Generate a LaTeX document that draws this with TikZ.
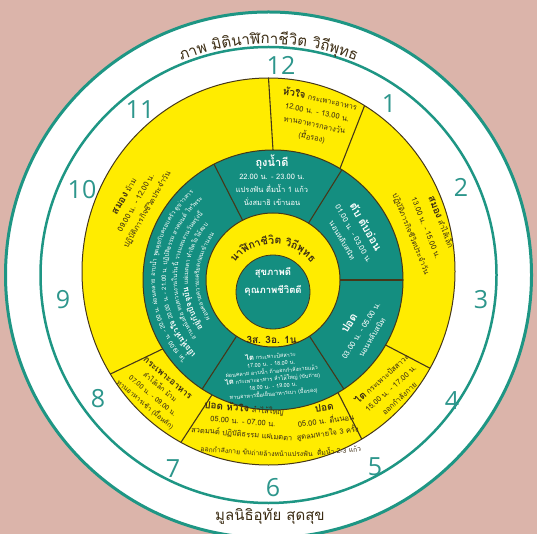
\documentclass[tikz,border=0pt]{standalone}
\usepackage{fontspec}
\newfontfamily\thai[Script=Thai]{Loma}
\newfontfamily\numfont{Open Sans}
\definecolor{bgpink}{RGB}{219,180,170}
\definecolor{ringteal}{RGB}{30,150,132}
\definecolor{fillteal}{RGB}{20,142,128}
\definecolor{sunyellow}{RGB}{255,236,0}
\definecolor{inkline}{RGB}{70,55,25}
\definecolor{inkdark}{RGB}{60,45,20}
\definecolor{numteal}{RGB}{45,150,140}

\newlength\chunkw
\newlength\fullw
% plan text along a circle: list of angle/chunk, #7=1 clockwise, -1 anticlockwise
\newcommand\arcplan[7]{%
  \settowidth\fullw{#4#5}%
  \pgfmathsetmacro\arcstart{#3-(#7)*(\fullw/(#2))*90/pi}%
  \global\let\arcpos\arcstart
  \gdef#1{}%
  \foreach \ch in {#6}{%
    \settowidth\chunkw{#4\ch}%
    \pgfmathsetmacro\arcmid{\arcpos+(#7)*(\chunkw/(#2))*90/pi}%
    \ifx#1\empty
      \xdef#1{\arcmid/\unexpanded\expandafter{\ch}}%
    \else
      \xdef#1{\unexpanded\expandafter{#1},\arcmid/\unexpanded\expandafter{\ch}}%
    \fi
    \pgfmathsetmacro\arcnext{\arcpos+(#7)*(\chunkw/(#2))*180/pi}%
    \global\let\arcpos\arcnext
  }%
}
% draw a planned list: #1 list, #2 centre, #3 radius, #4 font, #5 colour, #6 name
\newcommand\arcdraw[6]{%
  \foreach \ang/\ch [count=\i] in #1 {
    \pgfmathsetmacro\pa{90-\ang}
    \node[arcglyph,text=#5,rotate=-\ang] (#6\i) at ([shift={(#2)}]\pa:#3pt) {#4\ch};
  }%
}
\newcommand\titlefont{\thai\fontsize{15}{15}\selectfont}
\newcommand\ringfont{\thai\bfseries\fontsize{10.5}{10.5}\selectfont}
\newcommand\smallfont{\thai\fontsize{7.5}{13}\selectfont}
\newcommand\tinyfont{\thai\fontsize{6}{6}\selectfont}
\newcommand\bw[1]{{\bfseries\fontsize{8}{8}\selectfont #1}}

\tikzset{
  divider/.style={draw=inkline,line width=1.1pt},
  arcglyph/.style={inner sep=0pt,anchor=base,text=inkdark},
  yellowtxt/.style={text=inkdark,align=center,inner sep=0pt,font=\smallfont},
  tealtxt/.style={text=white,align=center,inner sep=0pt,font=\smallfont},
  clocknum/.style={text=numteal,inner sep=0pt,font={\numfont\fontsize{25}{25}\selectfont}},
}
\newcommand\bigword[1]{{\bfseries\fontsize{10}{13}\selectfont #1}}
\newcommand\headword[1]{{\bfseries\fontsize{11}{13}\selectfont #1}}

\begin{document}
\arcplan{\titlelist}{231}{0}{\titlefont}{ภาพ มิตินาฬิกาชีวิต วิถีพุทธ}{ภา,พ,~,มิ,ติ,นา,ฬิ,กา,ชี,วิ,ต,~,วิ,ถี,พุ,ท,ธ}{1}%
\arcplan{\ringlist}{48}{0}{\ringfont}{นาฬิกาชีวิต วิถีพุทธ}{นา,ฬิ,กา,ชี,วิ,ต,~,วิ,ถี,พุ,ท,ธ}{1}%
\arcplan{\nightA}{118}{273}{\tinyfont}{ไต 19.00 น. - 20.00 น. ผ่อนคลาย อาบน้ำ พูดคุยกับครอบครัว ดูข่าวสาร}{ไต,~,19.00,~,น.,~,-,~,20.00,~,น.,~,ผ่อน,คลาย,~,อาบ,น้ำ,~,พูด,คุย,กับ,ครอบ,ครัว,~,ดู,ข่าว,สาร}{1}%
\arcplan{\nightB}{107}{273}{\tinyfont}{\bw{เยื่อหุ้มหัวใจ} 20.00 น. - 21.00 น. ปฏิบัติธรรม สวดมนต์ ไหว้พระ}{\bw{เยื่อ},\bw{หุ้ม},\bw{หัว},\bw{ใจ},~,20.00,~,น.,~,-,~,21.00,~,น.,~,ปฏิ,บัติ,ธรรม,~,สวด,มนต์,~,ไหว้,พระ}{1}%
\arcplan{\nightC}{96}{273}{\tinyfont}{อ่านหนังสือ ทบทวนงานในวันนี้ วางแผนงานวันพรุ่งนี้}{อ่าน,หนัง,สือ,~,ทบ,ทวน,งาน,ใน,วัน,นี้,~,วาง,แผน,งาน,วัน,พรุ่ง,นี้}{1}%
\arcplan{\nightD}{85}{273}{\tinyfont}{\bw{อยู่กับปัจจุบัน} แผ่เมตตา ทำจิตใจให้สงบ}{\bw{อยู่},\bw{กับ},\bw{ปัจ},\bw{จุ},\bw{บัน},~,แผ่,เมต,ตา,~,ทำ,จิต,ใจ,ให้,สงบ}{1}%
\arcplan{\nightE}{74}{273}{\tinyfont}{ผ่อนคลายความเครียดก่อนเข้านอน}{ผ่อน,คลาย,ความ,เครียด,ก่อน,เข้า,นอน}{1}%
\begin{tikzpicture}[x=1pt,y=-1pt]
  \fill[bgpink] (0,0) rectangle (537,534);
  \useasboundingbox (0,0) rectangle (537,534);
  \coordinate (oc) at (268.5,275);
  \coordinate (yc) at (268.5,271.5);
  \coordinate (tc) at (273,280);
  \coordinate (dc) at (273,292);
  % rings
  \filldraw[fill=white,draw=ringteal,line width=3pt] (oc) circle[radius=263pt];
  \draw[ringteal,line width=2.5pt] (oc) circle[radius=228pt];
  \filldraw[fill=sunyellow,draw=inkline,line width=1pt] (yc) ellipse[x radius=186.5pt,y radius=193.5pt];
  \filldraw[fill=fillteal,draw=inkline,line width=1pt] (tc) circle[radius=130pt];
  \filldraw[fill=sunyellow,draw=inkline,line width=1pt] (tc) circle[radius=67pt];
  \filldraw[fill=fillteal,draw=inkline,line width=0.8pt] (dc) circle[radius=37pt];
  % dividers
  \foreach \a in {0,31,120,150,208,238}{
    \pgfmathsetmacro\pa{90-\a}
    \draw[divider] ([shift={(tc)}]\pa:130pt) -- ([shift={(yc)}]\pa:186.5pt and 193.5pt);
  }
  \foreach \a in {333,32,90,147,213}{
    \pgfmathsetmacro\pa{90-\a}
    \draw[divider] ([shift={(tc)}]\pa:67pt) -- ([shift={(tc)}]\pa:130pt);
  }
  % clock numbers
  \foreach \n/\px/\py in {12/281/65,1/389/104,2/461/187,3/481/300,4/452/401,5/375/467,
                          6/273/488,7/173/469,8/98/399,9/63/300,10/82/190,11/140/110}
    \node[clocknum] (num\n) at (\px,\py) {\n};
  % title and footer
  \arcdraw{\titlelist}{oc}{231}{\titlefont}{inkdark}{title}
  \node[text=inkdark,inner sep=0pt,font={\thai\fontsize{15}{15}\selectfont}] (footer) at (270,516) {มูลนิธิอุทัย สุดสุข};
  % yellow band
  \node[yellowtxt,rotate=-12] (noon) at (316,118)
    {\bigword{หัวใจ} กระเพาะอาหาร\\12.00 น. - 13.00 น.\\ทานอาหารกลางวัน\\(มื้อรอง)};
  \node[yellowtxt,rotate=-68,font={\thai\fontsize{7.5}{16}\selectfont}] (afternoon) at (426,228)
    {\bigword{สมอง} ลำไส้เล็ก\\13.00 น. - 15.00 น.\\ปฏิบัติภารกิจชีวิตประจำวัน};
  \node[yellowtxt,rotate=42] (evening) at (390,388)
    {\bigword{ไต} กระเพาะปัสสาวะ\\15.00 น. - 17.00 น.\\ออกกำลังกาย};
  \node[yellowtxt,rotate=-5,font={\thai\fontsize{7.5}{12.5}\selectfont}] (dawnleft) at (243,421)
    {\bigword{ปอด หัวใจ} ลำไส้ใหญ่\\05.00 น. - 07.00 น.\\สวดมนต์ ปฏิบัติธรรม แผ่เมตตา};
  \node[yellowtxt,rotate=8,font={\thai\fontsize{7.5}{12.5}\selectfont}] (dawnright) at (326,421)
    {\bigword{ปอด}\\05.00 น. ตื่นนอน\\สูดลมหายใจ 3 ครั้ง};
  \node[yellowtxt,rotate=-4,font={\thai\fontsize{6.8}{8}\selectfont}] (dawnbotA) at (232,451) {ออกกำลังกาย ขับถ่าย};
  \node[yellowtxt,font={\thai\fontsize{6.8}{8}\selectfont}] (dawnbotB) at (288,454) {ล้างหน้าแปรงฟัน};
  \node[yellowtxt,rotate=5,font={\thai\fontsize{6.8}{8}\selectfont}] (dawnbotC) at (339,450) {ดื่มน้ำ 2-3 แก้ว};
  \node[yellowtxt,rotate=-40,font={\thai\fontsize{6.8}{11.5}\selectfont}] (breakfast) at (156,392)
    {{\bfseries\fontsize{9}{11.5}\selectfont กระเพาะอาหาร}\\ลำไส้เล็ก ม้าม\\07.00 น. - 09.00 น.\\ทานอาหารเช้า (มื้อหลัก)};
  \node[yellowtxt,rotate=60] (morning) at (136,203)
    {\bigword{สมอง} ม้าม\\09.00 น. - 12.00 น.\\ปฏิบัติภารกิจชีวิตประจำวัน};
  % teal ring
  \node[tealtxt] (gall) at (272,180)
    {\headword{ถุงน้ำดี}\\22.00 น. - 23.00 น.\\แปรงฟัน ดื่มน้ำ 1 แก้ว\\นั่งสมาธิ เข้านอน};
  \node[tealtxt,rotate=-60] (liver) at (355,233)
    {\headword{ตับ ตับอ่อน}\\01.00 น. - 03.00 น.\\นอนหลับสนิท};
  \node[tealtxt,rotate=58] (lung) at (360,330)
    {\headword{ปอด}\\03.00 น. - 05.00 น.\\นอนหลับสนิท};
  \node[tealtxt,rotate=5,font={\thai\fontsize{5.5}{7.5}\selectfont}] (kidney) at (272,375)
    {{\bfseries\fontsize{7.5}{7.5}\selectfont ไต} กระเพาะปัสสาวะ\\17.00 น. - 18.00 น.\\ผ่อนคลาย อาบน้ำ ถ้าออกกำลังกายแล้ว\\{\bfseries\fontsize{7.5}{7.5}\selectfont ไต} กระเพาะอาหาร ลำไส้ใหญ่ (ขับถ่าย)\\18.00 น. - 19.00 น.\\ทานอาหารมื้อเย็นอาหารเบา (มื้อรอง)};
  \arcdraw{\nightA}{tc}{118}{\tinyfont}{white}{nighta}
  \arcdraw{\nightB}{tc}{107}{\tinyfont}{white}{nightb}
  \arcdraw{\nightC}{tc}{96}{\tinyfont}{white}{nightc}
  \arcdraw{\nightD}{tc}{85}{\tinyfont}{white}{nightd}
  \arcdraw{\nightE}{tc}{74}{\tinyfont}{white}{nighte}
  % centre
  \arcdraw{\ringlist}{dc}{48}{\ringfont}{inkdark}{ring}
  \node[text=inkdark,inner sep=0pt,font={\thai\bfseries\fontsize{10}{10}\selectfont}] (motto) at (273,340) {3ส. 3อ. 1น.};
  \node[tealtxt,font={\thai\bfseries\fontsize{9.5}{18}\selectfont}] (health) at (273,282) {สุขภาพดี\\คุณภาพชีวิตดี};
\end{tikzpicture}
\end{document}
